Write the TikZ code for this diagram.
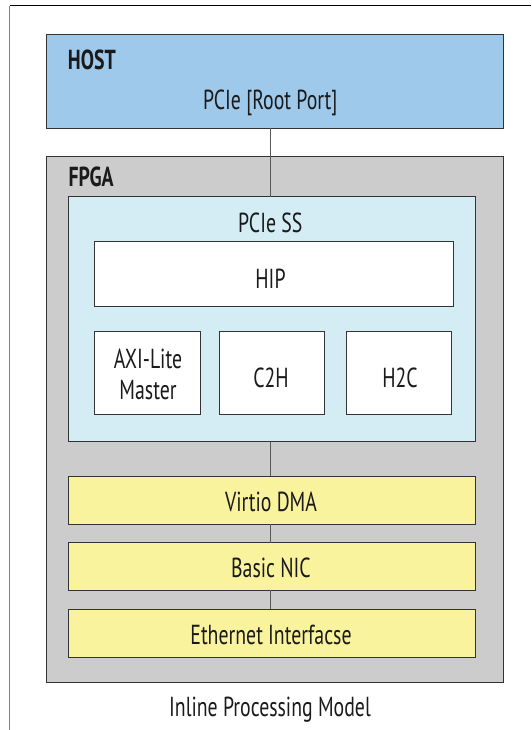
\documentclass[tikz,border=0pt]{standalone}
\usepackage{fontspec}
\setmainfont{PT Sans}[FakeStretch=0.72]
\definecolor{hostblue}{HTML}{9FC9EA}
\definecolor{fpgagray}{HTML}{CCCCCC}
\definecolor{ssblue}{HTML}{D4ECF3}
\definecolor{blockyellow}{HTML}{FAF39D}
\definecolor{inkdark}{HTML}{1A1A1A}
\begin{document}
\begin{tikzpicture}[x=1pt,y=-1pt]
\tikzset{
  box/.style={draw=black!80, line width=0.8pt, rectangle, inner sep=0pt, outer sep=0pt},
  lbl/.style={anchor=base, inner sep=0pt, text=inkdark, font=\fontsize{27.5}{32}\selectfont},
  title/.style={anchor=base west, inner sep=0pt, text=inkdark, font=\fontsize{27.5}{32}\selectfont\bfseries},
  link/.style={draw=black!65, line width=0.8pt}
}
\useasboundingbox (0,0) rectangle (531,730);

% outer frame (left and top edges)
\draw[black!50, line width=1pt] (9.7,730) -- (9.7,6);
\draw[black, line width=1pt] (9.7,6) -- (531,6);

% host and FPGA containers
\node[box, fill=hostblue, minimum width=457pt, minimum height=94pt] (host) at (274.5,81) {};
\node[box, fill=fpgagray, minimum width=457pt, minimum height=526pt] (fpga) at (274.5,419) {};

% PCIe subsystem
\node[box, fill=ssblue, minimum width=407.5pt, minimum height=245pt] (pss) at (271.75,319) {};
\node[box, fill=white, minimum width=359pt, minimum height=65pt] (hip) at (273.5,273.5) {};
\node[box, fill=white, minimum width=106pt, minimum height=83pt] (axi) at (147,372.5) {};
\node[box, fill=white, minimum width=105pt, minimum height=83pt] (c2h) at (271.5,372.5) {};
\node[box, fill=white, minimum width=105.5pt, minimum height=83pt] (h2c) at (398.75,372.5) {};

% data path blocks
\node[box, fill=blockyellow, minimum width=407.5pt, minimum height=48pt] (virtio) at (271.75,500) {};
\node[box, fill=blockyellow, minimum width=407.5pt, minimum height=47.3pt] (nic) at (271.75,566.4) {};
\node[box, fill=blockyellow, minimum width=407.5pt, minimum height=48pt] (eth) at (271.75,633) {};

% vertical bus
\coordinate (bus) at (270.7,0);
\draw[link] (host.south -| bus) -- (pss.north -| bus);
\draw[link] (pss.south -| bus) -- (virtio.north -| bus);
\draw[link] (virtio.south -| bus) -- (nic.north -| bus);
\draw[link] (nic.south -| bus) -- (eth.north -| bus);

% labels
\node[title] (hostlbl) at (67.7,70) {HOST};
\node[title] (fpgalbl) at (68.3,186.7) {FPGA};
\node[lbl] (rplbl) at (270.3,109.3) {PCIe [Root Port]};
\node[lbl] (psslbl) at (270.3,232.7) {PCIe SS};
\node[lbl] (hiplbl) at (270.5,288) {HIP};
\node[lbl] (axilbla) at (148,368) {AXI-Lite};
\node[lbl] (axilblb) at (148,399) {Master};
\node[lbl] (c2hlbl) at (271,387) {C2H};
\node[lbl] (h2clbl) at (400,387) {H2C};
\node[lbl] (virtiolbl) at (271,511.7) {Virtio DMA};
\node[lbl] (niclbl) at (271,577.7) {Basic NIC};
\node[lbl] (ethlbl) at (271,644.7) {Ethernet Interfacse};
\node[lbl] (caption) at (270,716.7) {Inline Processing Model};
\end{tikzpicture}
\end{document}
